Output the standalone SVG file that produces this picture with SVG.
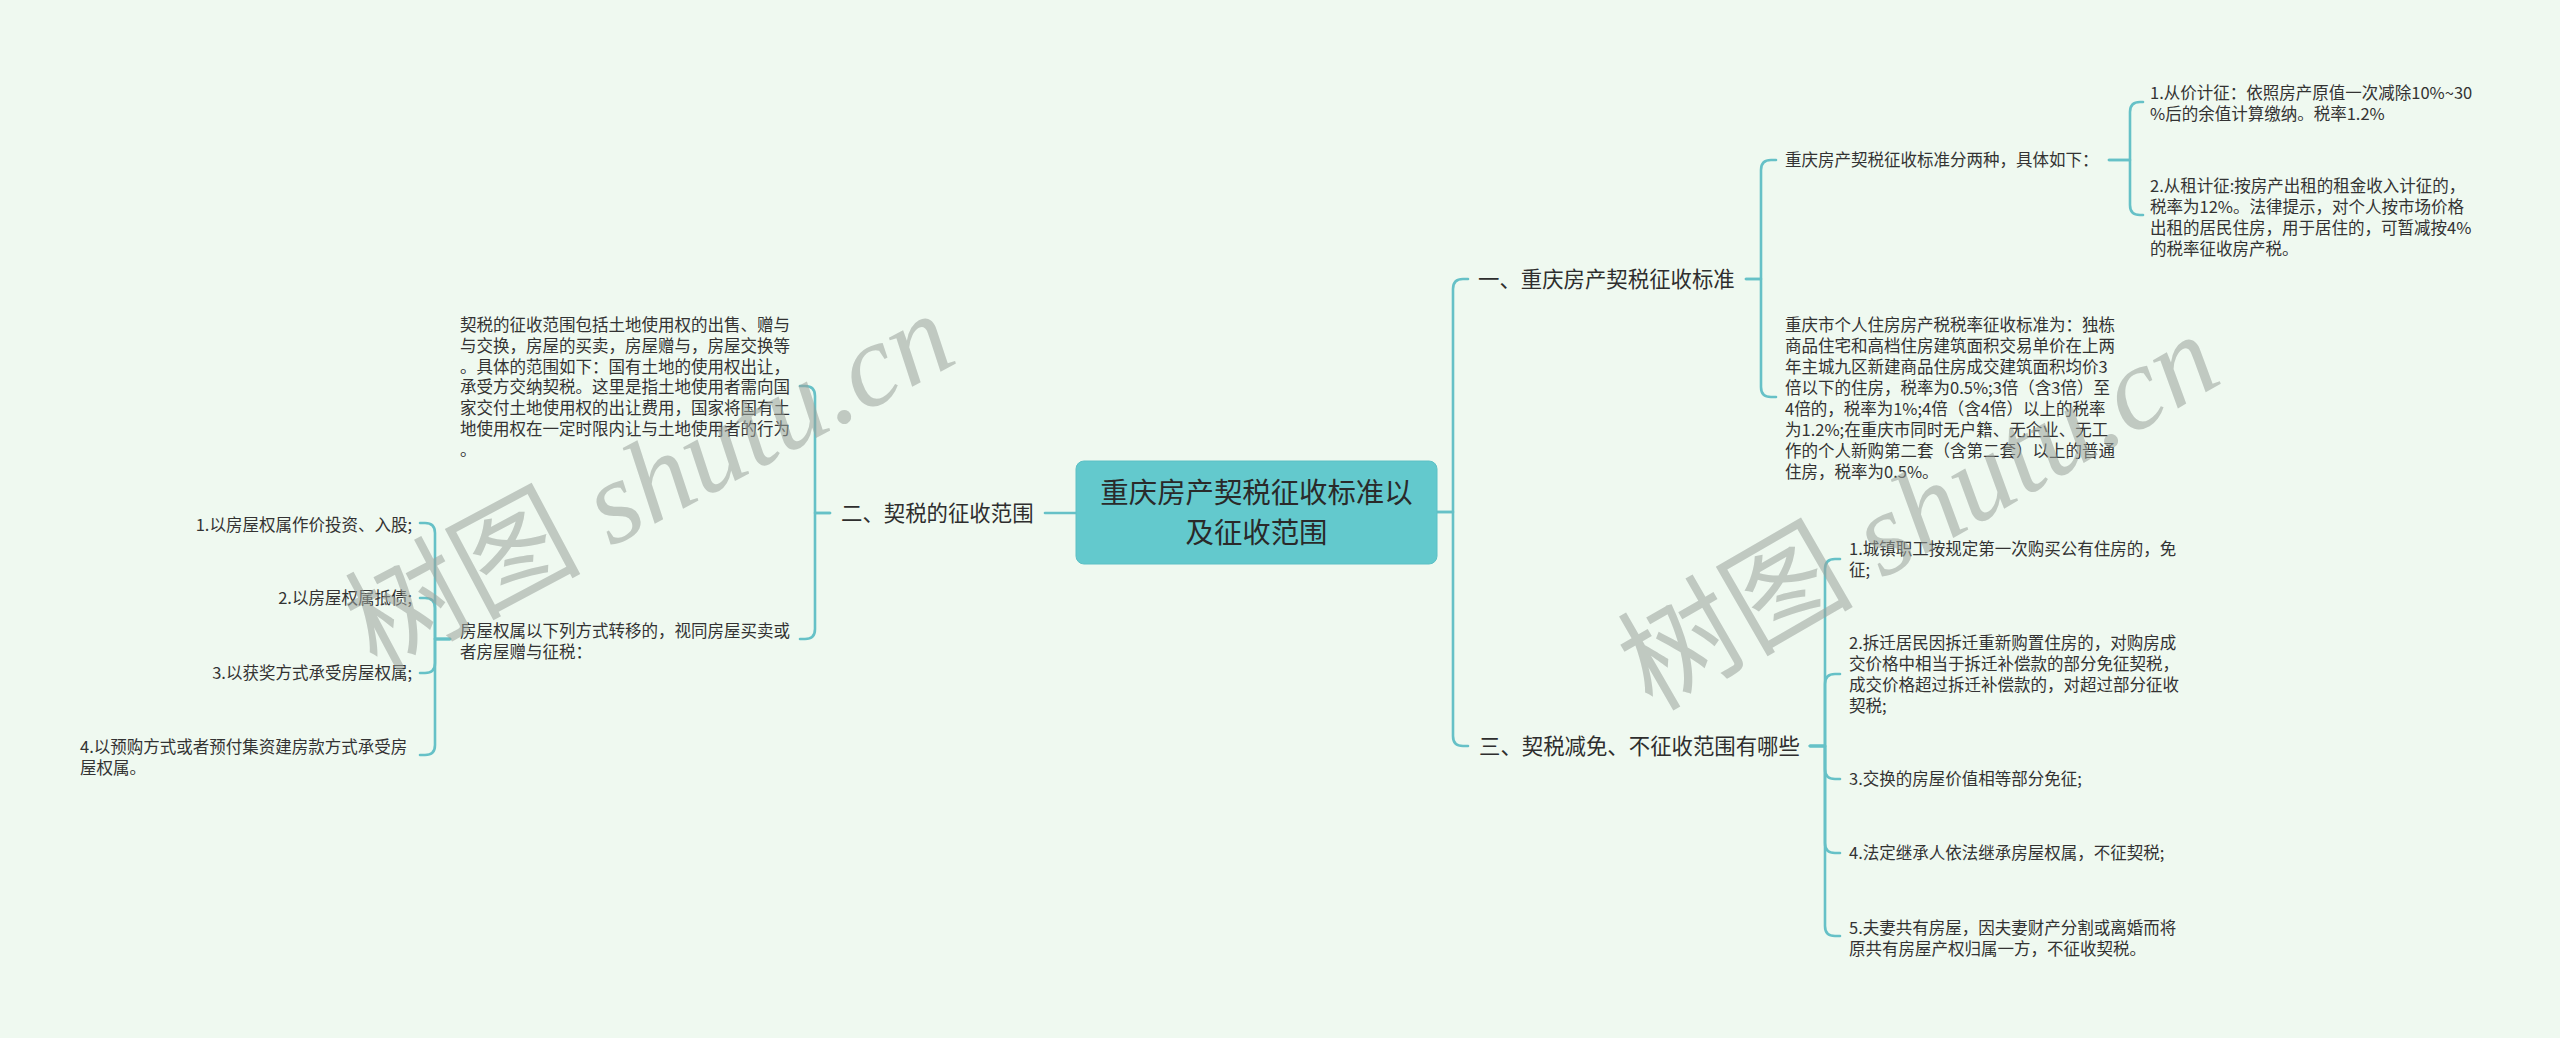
<svg xmlns="http://www.w3.org/2000/svg" width="2560" height="1038" viewBox="0 0 2560 1038">
<style>
text{font-family:"Noto Sans CJK SC","Noto Sans",sans-serif;fill:#333}
.t1{font-size:28.4px;fill:#2a2a2a;text-anchor:middle}
.t2{font-size:21.4px;fill:#2e2e2e}
.t3{font-size:16.5px}
.end{text-anchor:end}
.c{fill:none;stroke:#66c1c7;stroke-width:2.6;stroke-linecap:round;stroke-linejoin:round}
.wm{font-family:"Liberation Serif","Noto Sans CJK SC",serif;font-size:118px;fill:#9aa29c;opacity:0.55}
</style>
<rect width="2560" height="1038" fill="#eff9f0"/>
<g id="connectors">
<path class="c" d="M1437,512 H1453 V289 Q1453,279 1463,279 H1468"/>
<path class="c" d="M1437,512 H1453 V736 Q1453,746 1463,746 H1468"/>
<path class="c" d="M1076,513 H1045"/>
<path class="c" d="M1746,279 H1761 V170 Q1761,160 1771,160 H1776"/>
<path class="c" d="M1746,279 H1761 V387 Q1761,397 1771,397 H1776"/>
<path class="c" d="M2109,160 H2130 V112 Q2130,102 2140,102 H2143"/>
<path class="c" d="M2109,160 H2130 V205 Q2130,215 2140,215 H2143"/>
<path class="c" d="M1810,746 H1825 V569 Q1825,559 1835,559 H1840"/>
<path class="c" d="M1810,746 H1825 V684 Q1825,674 1835,674 H1840"/>
<path class="c" d="M1810,746 H1825 V769 Q1825,779 1835,779 H1840"/>
<path class="c" d="M1810,746 H1825 V843 Q1825,853 1835,853 H1840"/>
<path class="c" d="M1810,746 H1825 V926 Q1825,936 1835,936 H1840"/>
<path class="c" d="M830,513 H815 V396 Q815,386 805,386 H800"/>
<path class="c" d="M830,513 H815 V629 Q815,639 805,639 H800"/>
<path class="c" d="M450,639 H435 V533 Q435,523 425,523 H420"/>
<path class="c" d="M450,639 H435 V608 Q435,598 425,598 H420"/>
<path class="c" d="M450,639 H435 V663 Q435,673 425,673 H420"/>
<path class="c" d="M450,639 H435 V745 Q435,755 425,755 H420"/>
</g>
<g id="root">
<rect x="1076" y="461" width="361" height="103" rx="8" fill="#63c9cd" stroke="#5cc0c5" stroke-width="1"/>
<text class="t1" x="1256.5" y="503">重庆房产契税征收标准以</text>
<text class="t1" x="1256.5" y="543">及征收范围</text>
</g>
<g id="n1"><text class="t2" x="1478" y="287">一、重庆房产契税征收标准</text></g>
<g id="n2"><text class="t2" x="841" y="521">二、契税的征收范围</text></g>
<g id="n3"><text class="t2" x="1479" y="754">三、契税减免、不征收范围有哪些</text></g>
<g id="n1a"><text class="t3" x="1785" y="166">重庆房产契税征收标准分两种，具体如下：</text></g>
<g id="n1a1">
<text class="t3" x="2150" y="99">1.从价计征：依照房产原值一次减除10%~30</text>
<text class="t3" x="2150" y="120">%后的余值计算缴纳。税率1.2%</text>
</g>
<g id="n1a2">
<text class="t3" x="2150" y="192">2.从租计征:按房产出租的租金收入计征的，</text>
<text class="t3" x="2150" y="213">税率为12%。法律提示，对个人按市场价格</text>
<text class="t3" x="2150" y="234">出租的居民住房，用于居住的，可暂减按4%</text>
<text class="t3" x="2150" y="255">的税率征收房产税。</text>
</g>
<g id="n1b">
<text class="t3" x="1785" y="331">重庆市个人住房房产税税率征收标准为：独栋</text>
<text class="t3" x="1785" y="352">商品住宅和高档住房建筑面积交易单价在上两</text>
<text class="t3" x="1785" y="373">年主城九区新建商品住房成交建筑面积均价3</text>
<text class="t3" x="1785" y="394">倍以下的住房，税率为0.5%;3倍（含3倍）至</text>
<text class="t3" x="1785" y="415">4倍的，税率为1%;4倍（含4倍）以上的税率</text>
<text class="t3" x="1785" y="436">为1.2%;在重庆市同时无户籍、无企业、无工</text>
<text class="t3" x="1785" y="457">作的个人新购第二套（含第二套）以上的普通</text>
<text class="t3" x="1785" y="478">住房，税率为0.5%。</text>
</g>
<g id="n2a">
<text class="t3" x="460" y="331">契税的征收范围包括土地使用权的出售、赠与</text>
<text class="t3" x="460" y="352">与交换，房屋的买卖，房屋赠与，房屋交换等</text>
<text class="t3" x="460" y="373">。具体的范围如下：国有土地的使用权出让，</text>
<text class="t3" x="460" y="393">承受方交纳契税。这里是指土地使用者需向国</text>
<text class="t3" x="460" y="414">家交付土地使用权的出让费用，国家将国有土</text>
<text class="t3" x="460" y="435">地使用权在一定时限内让与土地使用者的行为</text>
<text class="t3" x="460" y="456">。</text>
</g>
<g id="n2b">
<text class="t3" x="460" y="637">房屋权属以下列方式转移的，视同房屋买卖或</text>
<text class="t3" x="460" y="658">者房屋赠与征税：</text>
</g>
<g id="n2b1"><text class="t3 end" x="412" y="531">1.以房屋权属作价投资、入股;</text></g>
<g id="n2b2"><text class="t3 end" x="412" y="604">2.以房屋权属抵债;</text></g>
<g id="n2b3"><text class="t3 end" x="412" y="679">3.以获奖方式承受房屋权属;</text></g>
<g id="n2b4">
<text class="t3" x="80" y="753">4.以预购方式或者预付集资建房款方式承受房</text>
<text class="t3" x="80" y="774">屋权属。</text>
</g>
<g id="n3a">
<text class="t3" x="1849" y="555">1.城镇职工按规定第一次购买公有住房的，免</text>
<text class="t3" x="1849" y="576">征;</text>
</g>
<g id="n3b">
<text class="t3" x="1849" y="649">2.拆迁居民因拆迁重新购置住房的，对购房成</text>
<text class="t3" x="1849" y="670">交价格中相当于拆迁补偿款的部分免征契税，</text>
<text class="t3" x="1849" y="691">成交价格超过拆迁补偿款的，对超过部分征收</text>
<text class="t3" x="1849" y="712">契税;</text>
</g>
<g id="n3c"><text class="t3" x="1849" y="785">3.交换的房屋价值相等部分免征;</text></g>
<g id="n3d"><text class="t3" x="1849" y="859">4.法定继承人依法继承房屋权属，不征契税;</text></g>
<g id="n3e">
<text class="t3" x="1849" y="934">5.夫妻共有房屋，因夫妻财产分割或离婚而将</text>
<text class="t3" x="1849" y="955">原共有房屋产权归属一方，不征收契税。</text>
</g>
<g id="watermark">
<text class="wm" transform="translate(376,672) rotate(-28)">树图 <tspan font-style="italic">shutu.cn</tspan></text>
<text class="wm" transform="translate(1652,712) rotate(-30)">树图 <tspan font-style="italic">shutu.cn</tspan></text>
</g>
</svg>
